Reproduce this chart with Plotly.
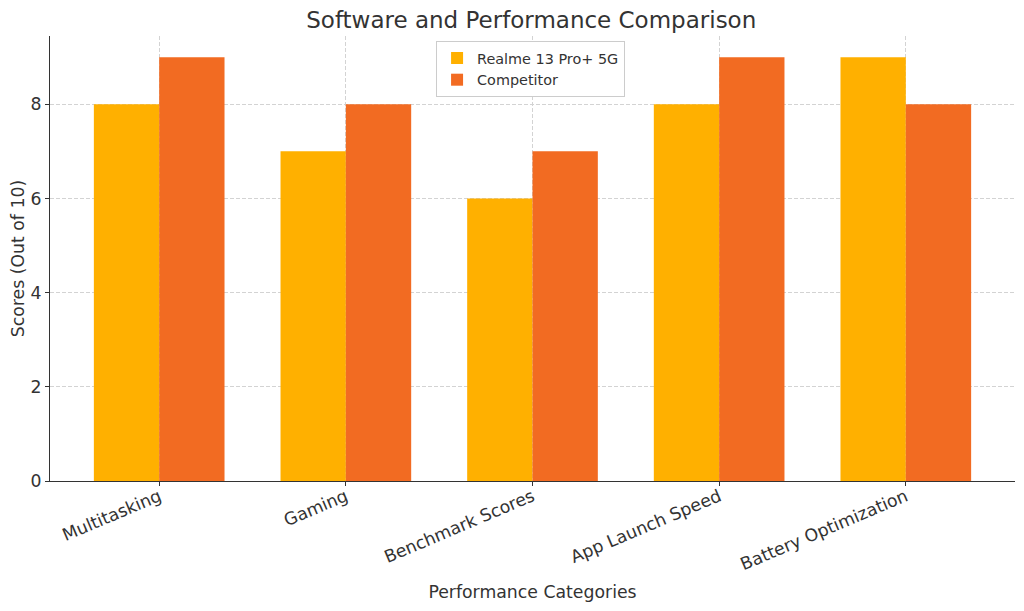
import plotly.graph_objects as go

categories = ["Multitasking", "Gaming", "Benchmark Scores", "App Launch Speed", "Battery Optimization"]
realme_scores = [8, 7, 6, 8, 9]
competitor_scores = [9, 8, 7, 9, 8]
series_names = ["Realme 13 Pro+ 5G", "Competitor"]
y_ticks = [0, 2, 4, 6, 8]

width = 0.35
idx = list(range(len(categories)))

fig = go.Figure()
fig.add_trace(go.Bar(
    x=[i - width / 2 for i in idx], y=realme_scores, width=width,
    name=series_names[0], marker=dict(color="#FFB000", line=dict(width=0)),
))
fig.add_trace(go.Bar(
    x=[i + width / 2 for i in idx], y=competitor_scores, width=width,
    name=series_names[1], marker=dict(color="#F26B22", line=dict(width=0)),
))

font_family = "DejaVu Sans"
grid_style = dict(showgrid=True, gridcolor="#d3d3d3", griddash="4px,2px", gridwidth=1)
fig.update_layout(
    width=1024, height=611,
    paper_bgcolor="white", plot_bgcolor="white",
    margin=dict(l=42, r=17, t=28, b=138, autoexpand=False),
    font=dict(family=font_family, color="#333333"),
    title=dict(text="Software and Performance Comparison", x=0.511, xanchor="center",
               y=0.980, yanchor="middle", font=dict(size=23, color="#333333")),
    barmode="overlay",
    showlegend=True,
    legend=dict(x=0.498, y=0.9885, xanchor="center", yanchor="top",
                bgcolor="white", bordercolor="#cccccc", borderwidth=1,
                font=dict(size=14.4, color="#333333"), tracegroupgap=0),
    xaxis=dict(
        range=[-0.585, 4.585], tickmode="array", tickvals=idx, ticktext=categories,
        tickangle=-23, tickfont=dict(size=17.3, color="#333333"),
        showline=True, linecolor="#333333", linewidth=1.2,
        ticks="outside", ticklen=4, tickcolor="#333333",
        ticklabelstandoff=-6,
        title=dict(text="Performance Categories", font=dict(size=17.3, color="#333333"), standoff=12),
        zeroline=False, automargin=False, **grid_style,
    ),
    yaxis=dict(
        range=[0, 9.45], tickmode="array", tickvals=y_ticks,
        tickfont=dict(size=17.3, color="#333333"),
        showline=True, linecolor="#333333", linewidth=1.2,
        ticks="outside", ticklen=4, tickcolor="#333333",
        title=dict(text="Scores (Out of 10)", font=dict(size=17.3, color="#333333"), standoff=1),
        zeroline=False, automargin=False, **grid_style,
    ),
)

fig.write_html("out.html")
